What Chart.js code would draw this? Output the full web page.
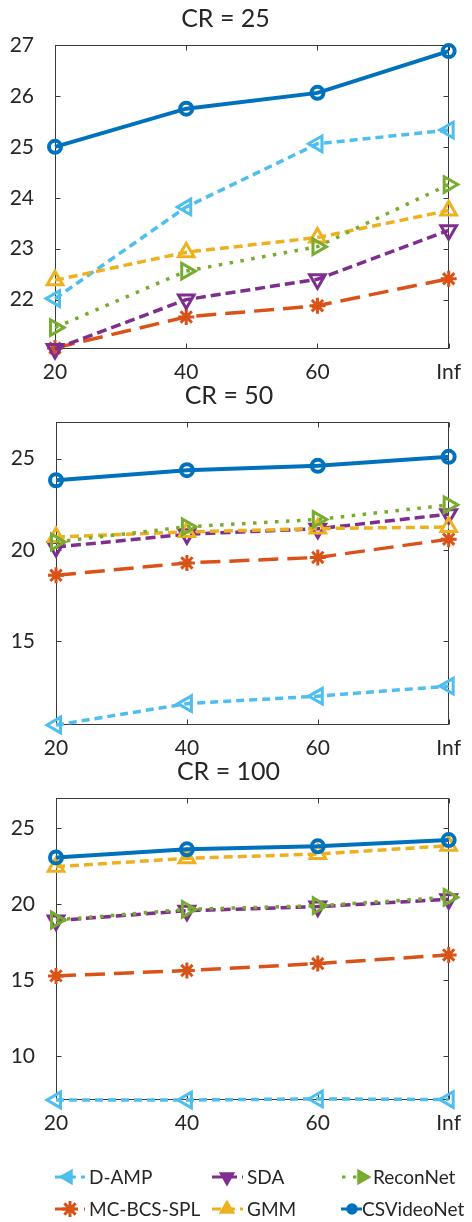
<!DOCTYPE html>
<html>
<head>
<meta charset="utf-8">
<script src="https://cdn.jsdelivr.net/npm/chart.js@4.4.1/dist/chart.umd.min.js"></script>
<style>
  body { margin: 0; background: #fff; }
  #wrap { position: relative; width: 472px; height: 1222px; overflow: hidden; }
  #wrap canvas { position: absolute; left: 0; }
  .key { position: absolute; font: 19px Lato, sans-serif; line-height: 20px; color: #262626; white-space: nowrap; }
</style>
</head>
<body>
<div id="wrap">
  <canvas id="cr25" width="472" height="389" style="top:0px"></canvas>
  <canvas id="cr50" width="472" height="388" style="top:377px"></canvas>
  <canvas id="cr100" width="472" height="387" style="top:753px"></canvas>
  <canvas id="keyCanvas" width="472" height="72" style="top:1150px"></canvas>
</div>
<script>
// x categories (frame interval)
const xLabels = ["20", "40", "60", "Inf"];
const methods = ["D-AMP", "MC-BCS-SPL", "SDA", "GMM", "ReconNet", "CSVideoNet"];

// PSNR, CR = 25
const damp25 = [22.02, 23.82, 25.06, 25.33];
const mcbcs25 = [21.05, 21.66, 21.88, 22.41];
const sda25 = [21.03, 22.0, 22.4, 23.36];
const gmm25 = [22.38, 22.93, 23.22, 23.75];
const recon25 = [21.45, 22.56, 23.04, 24.26];
const csv25 = [25.0, 25.75, 26.06, 26.88];
const yTicks25 = [22, 23, 24, 25, 26, 27];

// PSNR, CR = 50
const damp50 = [10.4, 11.57, 11.98, 12.53];
const mcbcs50 = [18.6, 19.28, 19.58, 20.58];
const sda50 = [20.15, 20.85, 21.15, 21.95];
const gmm50 = [20.7, 20.98, 21.16, 21.25];
const recon50 = [20.43, 21.26, 21.66, 22.46];
const csv50 = [23.81, 24.36, 24.6, 25.09];
const yTicks50 = [15, 20, 25];

// PSNR, CR = 100
const damp100 = [7.12, 7.12, 7.19, 7.15];
const mcbcs100 = [15.29, 15.64, 16.1, 16.67];
const sda100 = [18.93, 19.58, 19.85, 20.33];
const gmm100 = [22.48, 23.03, 23.31, 23.86];
const recon100 = [18.97, 19.67, 19.91, 20.46];
const csv100 = [23.09, 23.62, 23.82, 24.23];
const yTicks100 = [10, 15, 20, 25];

const TEXT = "#262626";
const FONT = "Lato, sans-serif";

// line / marker look for each method, same order as `methods`
const styles = [
  { color: "#4DBEEE", dash: [8, 5], point: "triangle", rot: 270, r: 9, pw: 3, lw: 3.5 },
  { color: "#D95319", dash: [20, 9], point: "star", rot: 0, r: 8, pw: 3, lw: 3.5 },
  { color: "#7E2F8E", dash: [10, 5], point: "triangle", rot: 180, r: 9, pw: 3, lw: 3.5 },
  { color: "#EDB120", dash: [9, 5], point: "triangle", rot: 0, r: 9, pw: 3, lw: 3.5 },
  { color: "#77AC30", dash: [3.5, 7.5], point: "triangle", rot: 90, r: 9, pw: 3, lw: 3.5 },
  { color: "#0072BD", dash: [], point: "circle", rot: 0, r: 6, pw: 4, lw: 4 },
];

// closed frame with inward tick marks on all four sides
const boxAxes = {
  id: "boxAxes",
  beforeDatasetsDraw(chart) {
    const { ctx, chartArea: a, scales } = chart;
    const L = Math.round(a.left) + 0.5, R = Math.round(a.right) - 0.5;
    const T = Math.round(a.top) + 0.5, B = Math.round(a.bottom) - 0.5;
    ctx.save();
    ctx.strokeStyle = "#3a3a3a";
    ctx.lineWidth = 1;
    ctx.strokeRect(L, T, R - L, B - T);
    ctx.beginPath();
    scales.x.ticks.forEach((t, i) => {
      const px = Math.round(scales.x.getPixelForTick(i)) + 0.5;
      ctx.moveTo(px, B); ctx.lineTo(px, B - 5);
      ctx.moveTo(px, T); ctx.lineTo(px, T + 5);
    });
    scales.y.ticks.forEach(t => {
      const py = Math.round(scales.y.getPixelForValue(t.value)) + 0.5;
      ctx.moveTo(L, py); ctx.lineTo(L + 5, py);
      ctx.moveTo(R, py); ctx.lineTo(R - 5, py);
    });
    ctx.stroke();
    ctx.restore();
  }
};

function makePanel(id, title, series, yMin, yMax, yTicks, left, rightPad) {
  const datasets = series.map((data, i) => {
    const s = styles[i];
    return {
      label: methods[i],
      data: data,
      order: series.length - i,
      borderColor: s.color,
      backgroundColor: s.color,
      borderWidth: s.lw,
      borderDash: s.dash,
      borderCapStyle: "butt",
      tension: 0,
      fill: false,
      clip: false,
      pointStyle: s.point,
      pointRotation: s.rot,
      pointRadius: s.r,
      pointBorderWidth: s.pw,
      pointBorderColor: s.color,
      pointBackgroundColor: "rgba(255,255,255,0)",
    };
  });

  new Chart(document.getElementById(id), {
    type: "line",
    data: { labels: xLabels, datasets: datasets },
    options: {
      responsive: false,
      animation: false,
      events: [],
      layout: { padding: { top: 0, left: 0, right: rightPad, bottom: 0 } },
      plugins: {
        legend: { display: false },
        tooltip: { enabled: false },
        title: {
          display: true,
          text: title,
          color: TEXT,
          font: { family: FONT, size: 25, weight: "normal", lineHeight: 1.2 },
          padding: { top: 4, bottom: 11 },
        },
      },
      scales: {
        x: {
          type: "category",
          offset: false,
          grid: { display: false, drawTicks: false },
          border: { display: false },
          ticks: { color: TEXT, font: { family: FONT, size: 21 }, padding: 11, maxRotation: 0, autoSkip: false },
          afterFit: s => { s.height = 40; },
        },
        y: {
          min: yMin,
          max: yMax,
          grid: { display: false, drawTicks: false },
          border: { display: false },
          ticks: { color: TEXT, font: { family: FONT, size: 21 }, padding: 21 },
          afterBuildTicks: s => { s.ticks = yTicks.map(v => ({ value: v })); },
          afterFit: s => { s.width = left; },
        },
      },
    },
    plugins: [boxAxes],
  });
}

makePanel("cr25", "CR = 25", [damp25, mcbcs25, sda25, gmm25, recon25, csv25], 21.03, 27, yTicks25, 55, 21);
makePanel("cr50", "CR = 50", [damp50, mcbcs50, sda50, gmm50, recon50, csv50], 10.4, 27, yTicks50, 56, 14);
makePanel("cr100", "CR = 100", [damp100, mcbcs100, sda100, gmm100, recon100, csv100], 7.12, 27, yTicks100, 56, 15);

// legend: 3 columns x 2 rows, line sample + marker + name
const keyLayout = [
  { i: 0, x0: 55, x1: 85, mx: 68, y: 27, tx: 89 },
  { i: 2, x0: 212, x1: 243, mx: 227, y: 27, tx: 247 },
  { i: 4, x0: 342, x1: 370, mx: 362, y: 27, tx: 373 },
  { i: 1, x0: 55, x1: 85, mx: 70, y: 59, tx: 89 },
  { i: 3, x0: 212, x1: 243, mx: 227, y: 59, tx: 247 },
  { i: 5, x0: 341, x1: 362, mx: 352, y: 59, tx: 362 },
];
const kctx = document.getElementById("keyCanvas").getContext("2d");
const wrap = document.getElementById("wrap");
keyLayout.forEach(k => {
  const s = styles[k.i];
  kctx.save();
  kctx.strokeStyle = s.color;
  kctx.lineWidth = 3;
  kctx.setLineDash(s.dash);
  kctx.beginPath();
  kctx.moveTo(k.x0, k.y);
  kctx.lineTo(k.x1, k.y);
  kctx.stroke();
  kctx.setLineDash([]);
  kctx.fillStyle = s.color;
  kctx.strokeStyle = s.color;
  kctx.lineWidth = s.point === "star" ? 3 : 1.5;
  Chart.helpers.drawPoint(kctx, { pointStyle: s.point, rotation: s.rot, radius: s.point === "circle" ? 5 : 8, borderWidth: kctx.lineWidth }, k.mx, k.y);
  kctx.restore();

  const span = document.createElement("span");
  span.className = "key";
  span.textContent = methods[k.i];
  span.style.left = k.tx + "px";
  span.style.top = (1150 + k.y - 10) + "px";
  wrap.appendChild(span);
});
</script>
</body>
</html>
